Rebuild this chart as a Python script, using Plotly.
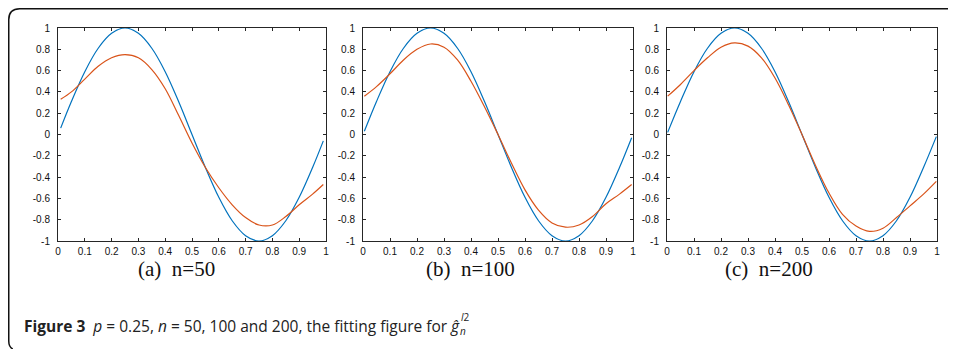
import plotly.graph_objects as go

# ---------------- data ----------------
X_MID = [0.05, 0.10, 0.15, 0.20, 0.25, 0.30, 0.35, 0.40, 0.45, 0.50,
         0.55, 0.60, 0.65, 0.70, 0.75, 0.80, 0.85, 0.90, 0.95]

x_n50 = [0.01] + X_MID + [0.99]
x_n100 = [0.005] + X_MID + [0.995]
x_n200 = [0.0025] + X_MID + [0.9975]

true_mid = [0.31, 0.59, 0.81, 0.95, 1.00, 0.95, 0.81, 0.59, 0.31, 0.00,
            -0.31, -0.59, -0.81, -0.95, -1.00, -0.95, -0.81, -0.59, -0.31]
true_n50 = [0.06] + true_mid + [-0.06]
true_n100 = [0.03] + true_mid + [-0.03]
true_n200 = [0.02] + true_mid + [-0.02]

fit_n50 = [0.33, 0.40, 0.52, 0.64, 0.72, 0.75, 0.72, 0.61, 0.43, 0.18, -0.08,
           -0.31, -0.50, -0.66, -0.78, -0.85, -0.85, -0.77, -0.66, -0.56, -0.47]
fit_n100 = [0.36, 0.45, 0.57, 0.70, 0.80, 0.85, 0.82, 0.70, 0.50, 0.26, 0.00,
            -0.27, -0.52, -0.71, -0.83, -0.87, -0.85, -0.77, -0.65, -0.56, -0.47]
fit_n200 = [0.36, 0.47, 0.60, 0.72, 0.82, 0.86, 0.83, 0.72, 0.53, 0.28, 0.00,
            -0.29, -0.55, -0.75, -0.86, -0.91, -0.88, -0.78, -0.67, -0.56, -0.44]

panel_labels = ["(a) n=50", "(b) n=100", "(c) n=200"]

X_TICKS = [0, 0.1, 0.2, 0.3, 0.4, 0.5, 0.6, 0.7, 0.8, 0.9, 1]
X_TICK_LABELS = ["0", "0.1", "0.2", "0.3", "0.4", "0.5", "0.6", "0.7", "0.8", "0.9", "1"]
Y_TICKS = [1, 0.8, 0.6, 0.4, 0.2, 0, -0.2, -0.4, -0.6, -0.8, -1]
Y_TICK_LABELS = ["1", "0.8", "0.6", "0.4", "0.2", "0", "-0.2", "-0.4", "-0.6", "-0.8", "-1"]

CAPTION = ("<b>Figure 3</b>  <i>p</i> = 0.25, <i>n</i> = 50, 100 and 200, "
           "the fitting figure for")
CAPTION_SYM = "<i>ĝ</i>"
CAPTION_SUB = "<i>n</i>"
CAPTION_SUP = "<i>l</i>2"

# ---------------- styling ----------------
W, H = 956, 349
OFF = 8  # the page body adds an 8px margin around the figure
BLUE = "#0072BD"
RED = "#D95319"
AX = "#262626"
CAP_FONT = "Open Sans, sans-serif"

panels_px = [(58, 326), (363, 633), (667, 937)]
y_top_px, y_bot_px = 28, 241

def px2x(p):
    return (p - OFF) / W

def px2y(p):
    return 1 - (p - OFF) / H

fig = go.Figure()

series = [(x_n50, true_n50, fit_n50), (x_n100, true_n100, fit_n100), (x_n200, true_n200, fit_n200)]

for i, (xs, tr, ft) in enumerate(series):
    k = "" if i == 0 else str(i + 1)
    fig.add_trace(go.Scatter(x=xs, y=tr, mode="lines", line=dict(color=BLUE, width=1.2, shape="spline"),
                             xaxis="x" + k, yaxis="y" + k, showlegend=False, hoverinfo="skip"))
    fig.add_trace(go.Scatter(x=xs, y=ft, mode="lines", line=dict(color=RED, width=1.2, shape="spline"),
                             xaxis="x" + k, yaxis="y" + k, showlegend=False, hoverinfo="skip"))

axis_common = dict(showgrid=False, zeroline=False, showline=True, linecolor=AX, linewidth=1,
                   mirror="ticks", ticks="inside", ticklen=3, tickcolor=AX, tickwidth=1,
                   automargin=False,
                   tickfont=dict(family="Liberation Sans, Arial, sans-serif", size=10, color="#111"))

layout = dict(width=W, height=H, autosize=False, margin=dict(l=0, r=0, t=0, b=0),
              paper_bgcolor="white", plot_bgcolor="white", showlegend=False)

for i, (l, r) in enumerate(panels_px):
    k = "" if i == 0 else str(i + 1)
    layout["xaxis" + k] = dict(axis_common, domain=[px2x(l), px2x(r)], range=[0, 1],
                               tickvals=X_TICKS, ticktext=X_TICK_LABELS, anchor="y" + k,
                               ticklabelstandoff=1)
    layout["yaxis" + k] = dict(axis_common, domain=[px2y(y_bot_px), px2y(y_top_px)], range=[-1, 1],
                               tickvals=Y_TICKS, ticktext=Y_TICK_LABELS, anchor="x" + k,
                               ticklabelstandoff=5)

fig.update_layout(**layout)

centers = [176, 470, 769]
for c, lab in zip(centers, panel_labels):
    fig.add_annotation(x=px2x(c), y=px2y(269), xref="paper", yref="paper",
                       text=lab.replace(" ", "\u00a0\u00a0"), showarrow=False,
                       xanchor="center", yanchor="middle",
                       font=dict(family="Liberation Serif, DejaVu Serif, serif", size=21, color="#111"))

fig.add_annotation(x=px2x(22), y=px2y(326), xref="paper", yref="paper", text=CAPTION, showarrow=False,
                   xanchor="left", yanchor="middle",
                   font=dict(family=CAP_FONT, size=15.5, color="#222"))
fig.add_annotation(x=px2x(448), y=px2y(326), xref="paper", yref="paper", text=CAPTION_SYM, showarrow=False,
                   xanchor="left", yanchor="middle",
                   font=dict(family=CAP_FONT, size=15.5, color="#222"))
fig.add_annotation(x=px2x(458), y=px2y(331), xref="paper", yref="paper", text=CAPTION_SUB, showarrow=False,
                   xanchor="left", yanchor="middle",
                   font=dict(family=CAP_FONT, size=10, color="#222"))
fig.add_annotation(x=px2x(459), y=px2y(317), xref="paper", yref="paper", text=CAPTION_SUP, showarrow=False,
                   xanchor="left", yanchor="middle",
                   font=dict(family=CAP_FONT, size=10, color="#222"))

# frame: top and left edges with rounded corners
fx0, fy0, rad = 8.75, 8.75, 11
path = (f"M {px2x(W + OFF)} {px2y(fy0)} L {px2x(fx0 + rad)} {px2y(fy0)} "
        f"Q {px2x(fx0)} {px2y(fy0)} {px2x(fx0)} {px2y(fy0 + rad)} "
        f"L {px2x(fx0)} {px2y(H - 8)} Q {px2x(fx0)} {px2y(H - 2)} {px2x(fx0 + 4)} {px2y(H)}")
fig.add_shape(type="path", path=path, xref="paper", yref="paper", line=dict(color="#111", width=1.5))

fig.write_html("out.html")
